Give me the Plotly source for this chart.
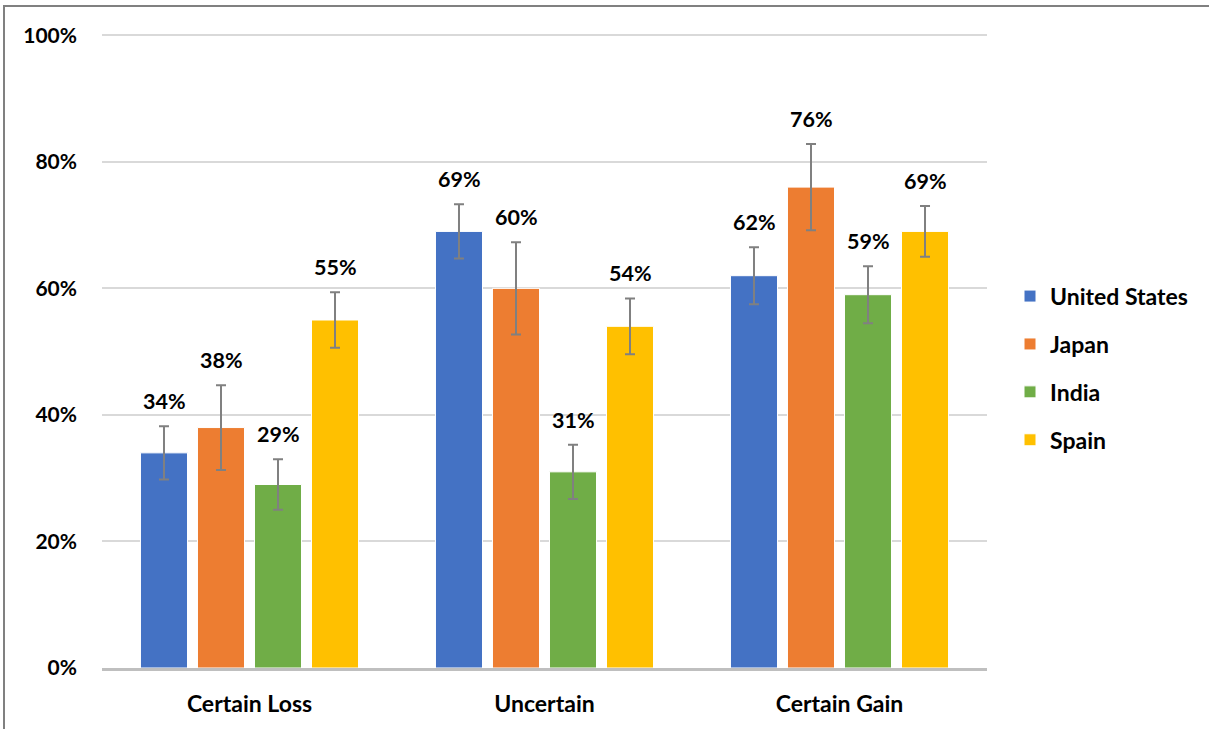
import plotly.graph_objects as go

# Data
categories = ["Certain Loss", "Uncertain", "Certain Gain"]
countries = ["United States", "Japan", "India", "Spain"]
values = {
    "United States": [34, 69, 62],
    "Japan": [38, 60, 76],
    "India": [29, 31, 59],
    "Spain": [55, 54, 69],
}
errors = {
    "United States": [4.2, 4.3, 4.5],
    "Japan": [6.7, 7.3, 6.8],
    "India": [4.0, 4.3, 4.5],
    "Spain": [4.4, 4.4, 4.0],
}
y_ticks = [0, 20, 40, 60, 80, 100]
y_labels = ["0%", "20%", "40%", "60%", "80%", "100%"]
colors = ["#4472C4", "#ED7D31", "#70AD47", "#FFC000"]

FONT = "Lato, 'Open Sans', sans-serif"

fig = go.Figure()

for i, name in enumerate(countries):
    fig.add_trace(go.Bar(
        x=categories,
        y=values[name],
        name=f"<b>{name}</b>",
        legendgroup=name,
        marker=dict(color=colors[i], line=dict(color="white", width=1)),
        error_y=dict(type="data", array=errors[name], color="#808080",
                     thickness=2, width=5),
    ))
    # value labels above the error bars
    for cat, v, e in zip(categories, values[name], errors[name]):
        fig.add_annotation(
            x=cat, y=v + e, text=f"<b>{v}%</b>", showarrow=False,
            xshift=(i - 1.5) * 57, yshift=25, yanchor="middle",
            font=dict(size=21.5, color="black", family=FONT),
        )

# outer frame
fig.add_shape(type="rect", xref="paper", yref="paper",
              x0=-98 / 885, x1=1230 / 885, y0=-70 / 634, y1=662 / 634,
              line=dict(color="#808080", width=2), layer="below")

fig.update_layout(
    width=1209, height=729,
    margin=dict(l=102, r=222, t=34, b=61),
    paper_bgcolor="white", plot_bgcolor="white",
    barmode="group", bargap=0.227, bargroupgap=0.175,
    font=dict(family=FONT, size=20, color="black"),
    legend=dict(x=1.026, y=0.473, xanchor="left", yanchor="middle",
                tracegroupgap=15, font=dict(size=23, family=FONT)),
    xaxis=dict(tickfont=dict(size=23), ticklabelstandoff=13,
               showline=True, linecolor="#BFBFBF", linewidth=3,
               tickprefix="<b>", ticksuffix="</b>"),
    yaxis=dict(range=[0, 100.2], tickvals=y_ticks,
               ticktext=[f"<b>{t}</b>" for t in y_labels],
               tickfont=dict(size=21), ticklabelstandoff=24,
               showgrid=True, gridcolor="#D9D9D9", gridwidth=1.5,
               zeroline=False),
)

# drop the default page margin so the chart sits at the window corner
fig.write_html("out.html", config={"displayModeBar": False},
               post_script="document.body.style.margin='0';")
